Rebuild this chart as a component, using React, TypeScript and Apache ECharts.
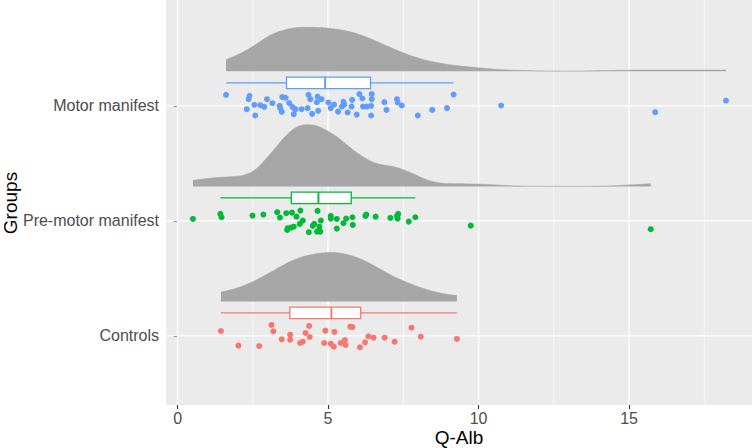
import React, { useEffect, useRef } from 'react';
import * as echarts from 'echarts';

const categories = ['Controls', 'Pre-motor manifest', 'Motor manifest'];
const groupColors = ['#F8766D', '#00BA38', '#619CFF'];
const xTicks = [0, 5, 10, 15];
const xMinorGrid = [2.5, 7.5, 12.5, 17.5];

// points: Q-Alb values and vertical jitter (in category units)
const controlsValues = [1.44, 2.02, 2.71, 3.12, 3.18, 3.46, 3.74, 3.74, 4.07, 4.16, 4.25, 4.37, 4.39, 4.87, 4.91, 5.09, 5.19, 5.21, 5.42, 5.56, 5.58, 5.74, 5.81, 6.06, 6.23, 6.34, 6.51, 6.88, 7.21, 7.77, 8.08, 9.28];
const controlsJitter = [0.043, -0.084, -0.087, 0.096, 0.041, -0.029, 0.011, -0.032, -0.061, -0.05, 0.026, 0.087, -0.009, -0.061, 0.046, -0.067, -0.093, 0.035, -0.061, -0.035, -0.078, 0.081, 0.078, -0.098, -0.055, -0.003, -0.015, -0.015, -0.05, 0.072, -0.006, -0.026];

const premotorValues = [0.51, 1.42, 1.46, 2.49, 2.85, 3.31, 3.40, 3.61, 3.66, 3.64, 3.77, 3.86, 3.80, 3.95, 4.08, 4.16, 4.06, 4.36, 4.49, 4.54, 4.65, 4.63, 4.74, 4.71, 4.76, 5.09, 5.09, 5.29, 5.29, 5.51, 5.60, 5.81, 5.82, 6.24, 6.27, 6.58, 7.07, 7.29, 7.33, 7.31, 7.68, 7.90, 9.74, 15.72];
const premotorJitter = [0.017, 0.061, 0.032, 0.046, 0.055, 0.076, 0.029, 0.067, -0.063, -0.078, -0.058, -0.05, 0.072, 0.037, 0.09, 0.003, -0.026, -0.098, -0.043, -0.026, 0.087, -0.093, -0.093, -0.05, 0.003, 0.043, 0.02, 0.017, -0.067, -0.02, 0.02, 0.032, -0.035, 0.043, 0.055, 0.037, 0.026, 0.043, 0.061, 0.02, -0.006, 0.032, -0.041, -0.072];

const motorValues = [1.61, 2.39, 2.36, 2.30, 2.58, 2.55, 2.75, 2.88, 2.97, 3.15, 3.39, 3.48, 3.59, 3.41, 3.46, 3.71, 3.82, 3.86, 3.92, 4.12, 4.32, 4.35, 4.41, 4.47, 4.65, 4.63, 4.67, 4.78, 5.01, 5.09, 5.20, 5.33, 5.46, 5.51, 5.54, 5.65, 5.80, 5.78, 5.95, 6.04, 6.14, 6.16, 6.29, 6.43, 6.45, 6.45, 6.43, 6.87, 6.94, 7.29, 7.31, 7.45, 7.98, 8.46, 8.95, 9.17, 10.75, 15.87, 18.22];
const motorJitter = [0.096, 0.087, 0.058, -0.029, -0.084, 0.009, 0.006, -0.009, 0.058, 0.023, 0, 0.076, 0.07, -0.02, -0.052, 0.023, -0.011, -0.072, -0.029, -0.029, -0.02, 0.096, 0.058, -0.07, 0.081, 0.032, -0.043, 0.058, 0.029, -0.02, 0.011, -0.05, -0.006, 0.035, 0.011, -0.058, 0.052, -0.006, -0.076, 0.102, 0.064, -0.006, -0.006, 0, 0.102, 0.058, -0.084, 0.032, -0.035, 0.058, 0.029, 0.003, -0.084, -0.035, -0.02, 0.098, 0.003, -0.055, 0.046];

// boxplot stats: [min whisker, Q1, median, Q3, max whisker]
const controlsBox = [1.44, 3.73, 5.11, 6.08, 9.28];
const premotorBox = [1.42, 3.78, 4.68, 5.77, 7.90];
const motorBox = [1.61, 3.62, 4.90, 6.41, 9.17];

// half-eye density outlines (x, height in category units)
const controlsDensX = [1.44, 1.97, 2.52, 3.08, 3.63, 4.19, 4.74, 5.07, 5.51, 6.07, 6.62, 7.18, 7.73, 8.29, 8.84, 9.28];
const controlsDensH = [0.081, 0.116, 0.174, 0.252, 0.333, 0.391, 0.42, 0.426, 0.415, 0.371, 0.298, 0.217, 0.154, 0.102, 0.067, 0.052];
const premotorDensX = [0.51, 0.92, 1.36, 1.92, 2.25, 2.58, 2.91, 3.25, 3.58, 3.91, 4.24, 4.57, 4.9, 5.23, 5.56, 5.9, 6.23, 6.56, 6.9, 7.23, 7.56, 7.9, 8.23, 8.56, 8.9, 9.45, 10.29, 11.06, 11.8, 13.2, 14.1, 14.9, 15.72];
const premotorDensH = [0.052, 0.067, 0.078, 0.087, 0.102, 0.145, 0.232, 0.333, 0.435, 0.507, 0.536, 0.53, 0.493, 0.443, 0.376, 0.304, 0.246, 0.203, 0.183, 0.168, 0.139, 0.102, 0.063, 0.037, 0.026, 0.023, 0.017, 0.006, 0.002, 0.001, 0.003, 0.011, 0.023];
const motorDensX = [1.61, 2.08, 2.52, 3.08, 3.63, 4.19, 4.74, 5.3, 5.85, 6.4, 6.96, 7.51, 8.06, 8.62, 9.17, 9.83, 10.7, 11.8, 12.5, 13.5, 14.6, 15.7, 16.8, 18.22];
const motorDensH = [0.102, 0.154, 0.22, 0.313, 0.365, 0.383, 0.38, 0.365, 0.336, 0.284, 0.22, 0.159, 0.11, 0.076, 0.052, 0.035, 0.015, 0.006, 0.002, 0.003, 0.009, 0.011, 0.011, 0.011];

const groupValues = [controlsValues, premotorValues, motorValues];
const groupJitter = [controlsJitter, premotorJitter, motorJitter];
const groupBoxes = [controlsBox, premotorBox, motorBox];
const groupDensX = [controlsDensX, premotorDensX, motorDensX];
const groupDensH = [controlsDensH, premotorDensH, motorDensH];

const X_MIN = -0.385;
const X_MAX = 19.085;
const Y_MIN = 0.4;
const Y_MAX = 3.92;
const SLAB_OFFSET = 0.3;
const BOX_OFFSET = 0.2;
const BOX_HALF = 0.05;
const FONT = '"Liberation Sans", Arial, Helvetica, sans-serif';

function buildOption() {
  const series: any[] = [];

  // vertical grid lines
  const vData = [
    ...xTicks.map((v) => [v, 1, 1]),
    ...xMinorGrid.map((v) => [v, 1, 0]),
  ];
  series.push({
    type: 'custom',
    silent: true,
    z: 1,
    data: vData,
    encode: { x: 0, y: 1 },
    renderItem: (params: any, api: any) => {
      const v = api.value(0);
      const major = api.value(2);
      const p1 = api.coord([v, Y_MIN]);
      const p2 = api.coord([v, Y_MAX]);
      return {
        type: 'line',
        shape: { x1: p1[0], y1: p1[1], x2: p2[0], y2: p2[1] },
        style: { stroke: '#FFFFFF', lineWidth: major ? 1.3 : 0.6 },
      };
    },
  });
  // horizontal grid lines
  series.push({
    type: 'custom',
    silent: true,
    z: 1,
    data: categories.map((_, i) => [0, i + 1]),
    encode: { x: 0, y: 1 },
    renderItem: (params: any, api: any) => {
      const y = api.value(1);
      const p1 = api.coord([X_MIN, y]);
      const p2 = api.coord([X_MAX, y]);
      return {
        type: 'line',
        shape: { x1: p1[0], y1: p1[1], x2: p2[0], y2: p2[1] },
        style: { stroke: '#FFFFFF', lineWidth: 1.3 },
      };
    },
  });

  // density slabs
  categories.forEach((name, i) => {
    const base = i + 1 + SLAB_OFFSET;
    series.push({
      type: 'line',
      name: name + ' density',
      silent: true,
      z: 2,
      smooth: 0.35,
      showSymbol: false,
      symbol: 'none',
      data: groupDensX[i].map((x, k) => [x, base + groupDensH[i][k]]),
      lineStyle: { width: 0.6, color: '#A6A6A6' },
      areaStyle: { color: '#A6A6A6', opacity: 1, origin: base },
    });
  });

  // boxplots
  series.push({
    type: 'custom',
    silent: true,
    z: 3,
    data: groupBoxes.map((b, i) => [i + 1, ...b]),
    encode: { x: [1, 2, 3, 4, 5], y: 0 },
    renderItem: (params: any, api: any) => {
      const cat = api.value(0);
      const mn = api.value(1);
      const q1 = api.value(2);
      const md = api.value(3);
      const q3 = api.value(4);
      const mx = api.value(5);
      const color = groupColors[params.dataIndex];
      const yc = cat + BOX_OFFSET;
      const pMin = api.coord([mn, yc]);
      const pQ1 = api.coord([q1, yc]);
      const pQ3 = api.coord([q3, yc]);
      const pMax = api.coord([mx, yc]);
      const top = api.coord([q1, yc + BOX_HALF])[1];
      const bot = api.coord([q1, yc - BOX_HALF])[1];
      const pMd = api.coord([md, yc]);
      const st = { stroke: color, lineWidth: 1.3, fill: 'none' };
      return {
        type: 'group',
        children: [
          { type: 'line', shape: { x1: pMin[0], y1: pMin[1], x2: pQ1[0], y2: pQ1[1] }, style: st },
          { type: 'line', shape: { x1: pQ3[0], y1: pQ3[1], x2: pMax[0], y2: pMax[1] }, style: st },
          {
            type: 'rect',
            shape: { x: pQ1[0], y: top, width: pQ3[0] - pQ1[0], height: bot - top },
            style: { stroke: color, lineWidth: 1.3, fill: '#FFFFFF' },
          },
          { type: 'line', shape: { x1: pMd[0], y1: top, x2: pMd[0], y2: bot }, style: { stroke: color, lineWidth: 1.9 } },
        ],
      };
    },
  });

  // points
  categories.forEach((name, i) => {
    series.push({
      type: 'scatter',
      name,
      silent: true,
      z: 4,
      symbolSize: 6,
      itemStyle: { color: groupColors[i], opacity: 1 },
      data: groupValues[i].map((v, k) => [v, i + 1 + groupJitter[i][k]]),
    });
  });

  return {
    animation: false,
    backgroundColor: '#FFFFFF',
    grid: {
      left: 166,
      right: 3,
      top: 0,
      bottom: 43,
      show: true,
      backgroundColor: '#EBEBEB',
      borderWidth: 0,
    },
    xAxis: {
      type: 'value',
      min: X_MIN,
      max: X_MAX,
      axisLine: { show: false },
      splitLine: { show: false },
      axisTick: { show: true, length: 4, customValues: xTicks, lineStyle: { color: '#333333', width: 1.1 } },
      axisLabel: {
        customValues: xTicks,
        color: '#4D4D4D',
        fontSize: 16,
        fontFamily: FONT,
        margin: 5,
      },
    },
    yAxis: {
      type: 'value',
      min: Y_MIN,
      max: Y_MAX,
      axisLine: { show: false },
      splitLine: { show: false },
      axisTick: { show: true, length: 4, customValues: [1, 2, 3], lineStyle: { color: '#333333', width: 1.1 } },
      axisLabel: {
        customValues: [1, 2, 3],
        formatter: (v: number) => categories[Math.round(v) - 1] || '',
        color: '#4D4D4D',
        fontSize: 16,
        fontFamily: FONT,
        margin: 7,
      },
    },
    graphic: [
      {
        type: 'text',
        x: 459,
        y: 437,
        style: {
          text: 'Q-Alb',
          fill: '#000000',
          font: '19px ' + FONT,
          textAlign: 'center',
          textVerticalAlign: 'middle',
        },
      },
      {
        type: 'text',
        x: 10,
        y: 203,
        rotation: Math.PI / 2,
        style: {
          text: 'Groups',
          fill: '#000000',
          font: '19px ' + FONT,
          textAlign: 'center',
          textVerticalAlign: 'middle',
        },
      },
    ],
    series,
  };
}

export default function App() {
  const ref = useRef<HTMLDivElement>(null);
  useEffect(() => {
    if (!ref.current) return;
    const chart = echarts.init(ref.current, null, { renderer: 'svg' });
    chart.setOption(buildOption() as any);
    return () => chart.dispose();
  }, []);
  return (
    <div
      ref={ref}
      style={{ position: 'fixed', left: 0, top: 0, width: 755, height: 448 }}
    />
  );
}
